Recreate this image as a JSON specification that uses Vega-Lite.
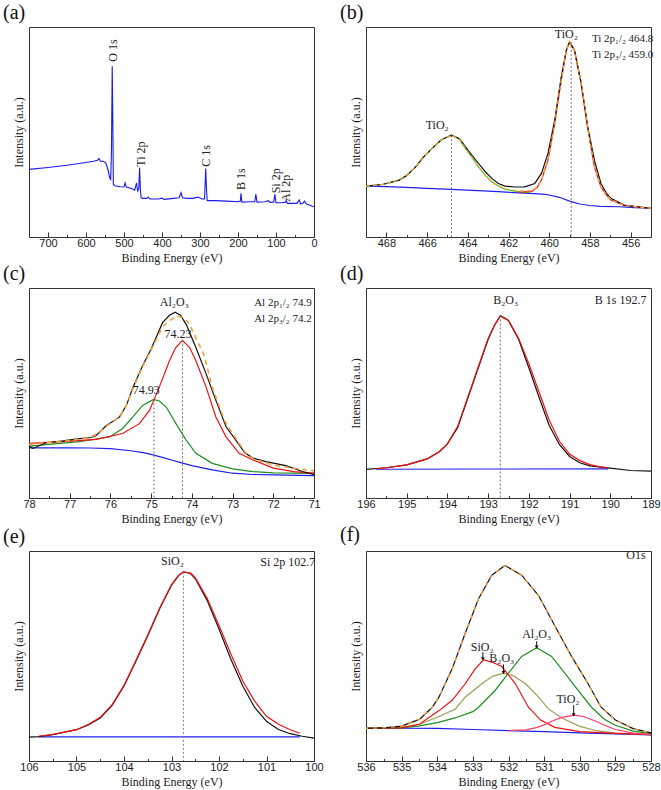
{
 "$schema": "https://vega.github.io/schema/vega-lite/v6.json",
 "padding": {"left": 2, "top": 2, "right": 2, "bottom": 1},
 "columns": 2,
 "spacing": {"row": -1, "column": 15},
 "resolve": {"scale": {"color": "independent"}},
 "config": {
  "font": "Liberation Serif",
  "view": {"stroke": "#333", "strokeWidth": 1},
  "title": {"font": "Liberation Serif", "fontSize": 20, "fontWeight": "normal", "anchor": "start", "frame": "bounds", "offset": 0, "dx": -9, "color": "#111"},
  "axisX": {"labelFont": "Liberation Sans", "labelFontSize": 11, "labelColor": "#222", "titleFont": "Liberation Serif", "titleFontSize": 12, "titleFontWeight": "normal", "titleColor": "#222", "domainColor": "#333", "tickColor": "#333", "grid": false, "labelOverlap": false, "labelFlush": false, "titlePadding": 2, "labelPadding": 5},
  "axisY": {"labels": false, "ticks": false, "domain": false, "grid": false, "titleFont": "Liberation Serif", "titleFontSize": 12, "titleFontWeight": "normal", "titleColor": "#222", "titlePadding": 4}
 },
 "datasets": {
  "a": [{"x":750,"y":32.2},{"x":700,"y":33.1},{"x":650,"y":34.2},{"x":600,"y":35.5},{"x":580,"y":36.1},{"x":570,"y":36.5},{"x":566,"y":37.4},{"x":562,"y":36.1},{"x":555,"y":36.1},{"x":548,"y":35.3},{"x":542,"y":31.9},{"x":537,"y":27.9},{"x":535,"y":27.4},{"x":533,"y":40.6},{"x":531,"y":81.3},{"x":529.5,"y":56.4},{"x":528,"y":25},{"x":524,"y":24.4},{"x":510,"y":23.9},{"x":500,"y":23.8},{"x":497,"y":25.8},{"x":494,"y":23.8},{"x":480,"y":23.1},{"x":472,"y":22.3},{"x":467,"y":25.8},{"x":464,"y":21.6},{"x":461,"y":23.1},{"x":459,"y":33},{"x":457,"y":23.1},{"x":455,"y":18.7},{"x":450,"y":18.4},{"x":440,"y":18.4},{"x":436,"y":19},{"x":432,"y":18.1},{"x":410,"y":18.1},{"x":400,"y":18.5},{"x":395,"y":17.9},{"x":370,"y":18.4},{"x":355,"y":18.7},{"x":350,"y":21.1},{"x":346,"y":18.7},{"x":335,"y":18.4},{"x":320,"y":18.4},{"x":305,"y":19},{"x":295,"y":18.1},{"x":288,"y":18.1},{"x":285,"y":32.6},{"x":283,"y":23.1},{"x":281,"y":17.3},{"x":260,"y":17.3},{"x":230,"y":17.1},{"x":200,"y":16.8},{"x":194,"y":17.1},{"x":192,"y":20.8},{"x":190,"y":16.6},{"x":170,"y":16.8},{"x":156,"y":16.8},{"x":153,"y":20.3},{"x":150,"y":16.6},{"x":130,"y":16.8},{"x":120,"y":17.3},{"x":116,"y":16.5},{"x":106,"y":16.6},{"x":103,"y":20.3},{"x":100,"y":16.3},{"x":85,"y":16.3},{"x":75,"y":16.6},{"x":73,"y":17.4},{"x":70,"y":16},{"x":45,"y":16},{"x":39,"y":17.6},{"x":35,"y":15.7},{"x":28,"y":16.3},{"x":25,"y":17.1},{"x":20,"y":15.7},{"x":12,"y":15.2},{"x":5,"y":14.6},{"x":0,"y":14.4}],
  "aL": [{"x":530,"y":83.5,"t":"O 1s"},{"x":456,"y":33.5,"t":"Ti 2p"},{"x":285,"y":33.5,"t":"C 1s"},{"x":191,"y":22.4,"t":"B 1s"},{"x":101,"y":20.8,"t":"Si 2p"},{"x":73,"y":16.8,"t":"Al 2p"}],
  "b": [
   {"s":"bg","x":469,"y":24.2},{"s":"bg","x":468,"y":24.0},{"s":"bg","x":467,"y":23.6},{"s":"bg","x":466,"y":23.2},{"s":"bg","x":464.8,"y":22.7},{"s":"bg","x":463.5,"y":22.1},{"s":"bg","x":462.5,"y":21.6},{"s":"bg","x":461.7,"y":21.1},{"s":"bg","x":461,"y":20.8},{"s":"bg","x":460.3,"y":20.4},{"s":"bg","x":460,"y":20.0},{"s":"bg","x":459.5,"y":18.9},{"s":"bg","x":459,"y":17.1},{"s":"bg","x":458.5,"y":15.7},{"s":"bg","x":458,"y":15.0},{"s":"bg","x":457.5,"y":14.6},{"s":"bg","x":456.6,"y":14.4},{"s":"bg","x":455.8,"y":14.0},{"s":"bg","x":455,"y":13.7},
   {"s":"g","x":469,"y":24.2},{"s":"g","x":468.19,"y":25.0},{"s":"g","x":467.37,"y":27.1},{"s":"g","x":467,"y":29.3},{"s":"g","x":466.56,"y":33.4},{"s":"g","x":466.2,"y":37.8},{"s":"g","x":465.75,"y":42.2},{"s":"g","x":465.3,"y":46.3},{"s":"g","x":464.8,"y":48.5},{"s":"g","x":464.4,"y":46.5},{"s":"g","x":464.12,"y":42.2},{"s":"g","x":463.8,"y":38},{"s":"g","x":463.47,"y":33.4},{"s":"g","x":463.15,"y":29.5},{"s":"g","x":462.82,"y":26.3},{"s":"g","x":462.5,"y":24.3},{"s":"g","x":462.17,"y":22.7},{"s":"g","x":461.52,"y":21.6},{"s":"g","x":461.0,"y":21.1},
   {"s":"r","x":461.5,"y":21.4},{"s":"r","x":460.87,"y":21.6},{"s":"r","x":460.6,"y":23.5},{"s":"r","x":460.38,"y":27.1},{"s":"r","x":460.06,"y":36.6},{"s":"r","x":459.73,"y":54.0},{"s":"r","x":459.41,"y":74.6},{"s":"r","x":459.16,"y":88.9},{"s":"r","x":459.0,"y":92.9},{"s":"r","x":458.76,"y":88.9},{"s":"r","x":458.43,"y":73.1},{"s":"r","x":458.11,"y":52.0},{"s":"r","x":457.78,"y":33.4},{"s":"r","x":457.46,"y":23.9},{"s":"r","x":457.2,"y":20},{"s":"r","x":456.97,"y":17.6},{"s":"r","x":456.32,"y":15.0},{"s":"r","x":455.67,"y":14.3},{"s":"r","x":455,"y":13.7},
   {"s":"data","x":469,"y":24.2},{"s":"data","x":468.19,"y":25.0},{"s":"data","x":467.37,"y":27.1},{"s":"data","x":467,"y":29.3},{"s":"data","x":466.56,"y":33.4},{"s":"data","x":466.2,"y":37.8},{"s":"data","x":465.75,"y":42.2},{"s":"data","x":465.3,"y":46.3},{"s":"data","x":464.8,"y":48.5},{"s":"data","x":464.4,"y":46.8},{"s":"data","x":464.12,"y":43.0},{"s":"data","x":463.8,"y":39},{"s":"data","x":463.47,"y":35.0},{"s":"data","x":463.15,"y":31.2},{"s":"data","x":462.82,"y":27.9},{"s":"data","x":462.5,"y":25.5},{"s":"data","x":462.17,"y":24.2},{"s":"data","x":461.7,"y":23.8},{"s":"data","x":461.2,"y":23.9},{"s":"data","x":460.71,"y":25.5},{"s":"data","x":460.38,"y":30.3},{"s":"data","x":460.06,"y":39.8},{"s":"data","x":459.73,"y":55.6},{"s":"data","x":459.41,"y":76.2},{"s":"data","x":459.16,"y":88.9},{"s":"data","x":459.0,"y":92.9},{"s":"data","x":458.76,"y":88.9},{"s":"data","x":458.43,"y":73.1},{"s":"data","x":458.11,"y":52.5},{"s":"data","x":457.78,"y":36.6},{"s":"data","x":457.46,"y":25.5},{"s":"data","x":457.2,"y":21},{"s":"data","x":456.97,"y":18.4},{"s":"data","x":456.32,"y":15.2},{"s":"data","x":455.67,"y":14.4},{"s":"data","x":455,"y":13.6},
   {"s":"env","x":469,"y":24.2},{"s":"env","x":468.19,"y":25.0},{"s":"env","x":467.37,"y":27.1},{"s":"env","x":467,"y":29.3},{"s":"env","x":466.56,"y":33.4},{"s":"env","x":466.2,"y":37.8},{"s":"env","x":465.75,"y":42.2},{"s":"env","x":465.3,"y":46.3},{"s":"env","x":464.8,"y":48.5},{"s":"env","x":464.4,"y":46.5},{"s":"env","x":464.12,"y":42.2},{"s":"env","x":463.8,"y":38},{"s":"env","x":463.47,"y":33.4},{"s":"env","x":463.15,"y":29.5},{"s":"env","x":462.82,"y":26.3},{"s":"env","x":462.5,"y":24.4},{"s":"env","x":462.17,"y":22.9},{"s":"env","x":461.52,"y":21.9},{"s":"env","x":460.87,"y":22.0},{"s":"env","x":460.6,"y":23.7},{"s":"env","x":460.38,"y":27.2},{"s":"env","x":460.06,"y":36.6},{"s":"env","x":459.73,"y":54.0},{"s":"env","x":459.41,"y":74.6},{"s":"env","x":459.16,"y":88.9},{"s":"env","x":459.0,"y":92.9},{"s":"env","x":458.76,"y":88.9},{"s":"env","x":458.43,"y":73.1},{"s":"env","x":458.11,"y":52.0},{"s":"env","x":457.78,"y":33.6},{"s":"env","x":457.46,"y":24.2},{"s":"env","x":457.2,"y":20.2},{"s":"env","x":456.97,"y":17.8},{"s":"env","x":456.32,"y":15.1},{"s":"env","x":455.67,"y":14.3},{"s":"env","x":455,"y":13.7}
  ],
  "bR": [{"x":464.8,"y":48.5},{"x":458.92,"y":92.9}],
  "bT": [{"x":465.5,"y":53.2,"t":"TiO₂"},{"x":459.16,"y":96.8,"t":"TiO₂"}],
  "bTL": [{"x":457.9,"y":94.1,"t":"Ti 2p₁/₂ 464.8"},{"x":457.9,"y":86.5,"t":"Ti 2p₃/₂ 459.0"}],
  "c": [
   {"s":"bg","x":78,"y":23.9},{"s":"bg","x":77,"y":23.9},{"s":"bg","x":76.5,"y":23.8},{"s":"bg","x":76,"y":23.5},{"s":"bg","x":75.5,"y":22.5},{"s":"bg","x":75.2,"y":21.6},{"s":"bg","x":75,"y":20.8},{"s":"bg","x":74.75,"y":19.5},{"s":"bg","x":74.5,"y":18.1},{"s":"bg","x":74.25,"y":16.7},{"s":"bg","x":74,"y":15.4},{"s":"bg","x":73.5,"y":13.4},{"s":"bg","x":73,"y":11.8},{"s":"bg","x":72.5,"y":11.2},{"s":"bg","x":72,"y":11.0},{"s":"bg","x":71,"y":10.7},
   {"s":"g","x":78,"y":24.7},{"s":"g","x":76.76,"y":26.8},{"s":"g","x":76.02,"y":29.1},{"s":"g","x":75.7,"y":33.1},{"s":"g","x":75.45,"y":38.6},{"s":"g","x":75.21,"y":44.1},{"s":"g","x":74.94,"y":46.9},{"s":"g","x":74.8,"y":46.2},{"s":"g","x":74.63,"y":43.3},{"s":"g","x":74.39,"y":35.4},{"s":"g","x":74.14,"y":27.6},{"s":"g","x":73.9,"y":21.3},{"s":"g","x":73.5,"y":16.5},{"s":"g","x":73,"y":13.9},{"s":"g","x":72.5,"y":12.6},{"s":"g","x":72,"y":12.0},{"s":"g","x":71,"y":11.7},
   {"s":"r","x":78,"y":26.0},{"s":"r","x":77.17,"y":26.8},{"s":"r","x":76.35,"y":27.9},{"s":"r","x":75.7,"y":30.7},{"s":"r","x":75.29,"y":35.4},{"s":"r","x":75.04,"y":41.7},{"s":"r","x":74.8,"y":52.8},{"s":"r","x":74.55,"y":65.4},{"s":"r","x":74.4,"y":71.5},{"s":"r","x":74.23,"y":75.1},{"s":"r","x":74.05,"y":71.5},{"s":"r","x":73.9,"y":65.4},{"s":"r","x":73.65,"y":52.8},{"s":"r","x":73.41,"y":38.6},{"s":"r","x":73.16,"y":29.1},{"s":"r","x":72.84,"y":21.3},{"s":"r","x":72.5,"y":18.1},{"s":"r","x":72,"y":14.2},{"s":"r","x":71.5,"y":12.6},{"s":"r","x":71,"y":11.8},
   {"s":"data","x":78,"y":24.7},{"s":"data","x":77.9,"y":23.6},{"s":"data","x":77.58,"y":26.3},{"s":"data","x":77.17,"y":27.2},{"s":"data","x":76.76,"y":28.3},{"s":"data","x":76.47,"y":28.8},{"s":"data","x":76.35,"y":29.8},{"s":"data","x":76.1,"y":34.5},{"s":"data","x":75.78,"y":38.5},{"s":"data","x":75.61,"y":44},{"s":"data","x":75.45,"y":52.5},{"s":"data","x":75.21,"y":63},{"s":"data","x":75.0,"y":71},{"s":"data","x":74.72,"y":83.5},{"s":"data","x":74.55,"y":87},{"s":"data","x":74.41,"y":88.5},{"s":"data","x":74.28,"y":87},{"s":"data","x":74.14,"y":82.7},{"s":"data","x":73.9,"y":71.7},{"s":"data","x":73.65,"y":59.1},{"s":"data","x":73.41,"y":46.5},{"s":"data","x":73.16,"y":33.9},{"s":"data","x":72.92,"y":27.6},{"s":"data","x":72.7,"y":21.5},{"s":"data","x":72.5,"y":19.0},{"s":"data","x":72.18,"y":17.3},{"s":"data","x":71.69,"y":15.4},{"s":"data","x":71.28,"y":12.6},{"s":"data","x":71.04,"y":11.3},{"s":"data","x":71,"y":11.1},
   {"s":"env","x":78,"y":25.5},{"s":"env","x":77.5,"y":26.5},{"s":"env","x":77,"y":27.3},{"s":"env","x":76.5,"y":28.9},{"s":"env","x":76.3,"y":30.8},{"s":"env","x":76.1,"y":34.2},{"s":"env","x":75.78,"y":38.5},{"s":"env","x":75.61,"y":44},{"s":"env","x":75.45,"y":52},{"s":"env","x":75.21,"y":62.5},{"s":"env","x":75.0,"y":70.5},{"s":"env","x":74.72,"y":81.5},{"s":"env","x":74.5,"y":85.2},{"s":"env","x":74.31,"y":86.6},{"s":"env","x":74.1,"y":84},{"s":"env","x":74,"y":80.3},{"s":"env","x":73.7,"y":68},{"s":"env","x":73.5,"y":52.8},{"s":"env","x":73.2,"y":37},{"s":"env","x":73,"y":30.7},{"s":"env","x":72.7,"y":22},{"s":"env","x":72.5,"y":18.6},{"s":"env","x":72,"y":15.7},{"s":"env","x":71.5,"y":14.2},{"s":"env","x":71,"y":12.9}
  ],
  "cR": [{"x":74.93,"y":46.9},{"x":74.23,"y":75.1}],
  "cT": [{"x":74.43,"y":93.4,"t":"Al₂O₃"},{"x":74.34,"y":78,"t":"74.23"},{"x":75.12,"y":51.2,"t":"74.93"}],
  "cTL": [{"x":72.47,"y":92.9,"t":"Al 2p₁/₂ 74.9"},{"x":72.47,"y":85.4,"t":"Al 2p₃/₂ 74.2"}],
  "d": [
   {"s":"bg","x":195.75,"y":13.7},{"s":"bg","x":193,"y":13.8},{"s":"bg","x":190.05,"y":13.9},
   {"s":"r","x":195.75,"y":13.9},{"s":"r","x":195.5,"y":14.4},{"s":"r","x":195,"y":15.8},{"s":"r","x":194.5,"y":18.6},{"s":"r","x":194.2,"y":22},{"s":"r","x":194,"y":25.8},{"s":"r","x":193.75,"y":34},{"s":"r","x":193.5,"y":48},{"s":"r","x":193.25,"y":62},{"s":"r","x":193,"y":76},{"s":"r","x":192.85,"y":82},{"s":"r","x":192.7,"y":86.6},{"s":"r","x":192.5,"y":84.5},{"s":"r","x":192.25,"y":76},{"s":"r","x":192,"y":64},{"s":"r","x":191.75,"y":50.5},{"s":"r","x":191.5,"y":37},{"s":"r","x":191.25,"y":27},{"s":"r","x":191,"y":20.9},{"s":"r","x":190.75,"y":17.8},{"s":"r","x":190.5,"y":15.9},{"s":"r","x":190.25,"y":14.8},{"s":"r","x":190.05,"y":14.4},
   {"s":"data","x":196,"y":13.6},{"s":"data","x":195.5,"y":14.4},{"s":"data","x":195,"y":15.8},{"s":"data","x":194.5,"y":18.6},{"s":"data","x":194.2,"y":22},{"s":"data","x":194,"y":25.8},{"s":"data","x":193.75,"y":33.5},{"s":"data","x":193.5,"y":47.5},{"s":"data","x":193.25,"y":61.5},{"s":"data","x":193,"y":75.5},{"s":"data","x":192.85,"y":82},{"s":"data","x":192.7,"y":86.9},{"s":"data","x":192.5,"y":84.5},{"s":"data","x":192.25,"y":75.5},{"s":"data","x":192,"y":62},{"s":"data","x":191.75,"y":48},{"s":"data","x":191.5,"y":34.5},{"s":"data","x":191.25,"y":25.5},{"s":"data","x":191,"y":19.8},{"s":"data","x":190.75,"y":16.8},{"s":"data","x":190.5,"y":15.3},{"s":"data","x":190,"y":14.2},{"s":"data","x":189.5,"y":13.1},{"s":"data","x":189,"y":12.8}
  ],
  "dR": [{"x":192.7,"y":86.9}],
  "dT": [{"x":192.57,"y":94.2,"t":"B₂O₃"}],
  "dTL": [{"x":190.38,"y":94.2,"t":"B 1s 192.7"}],
  "e": [
   {"s":"bg","x":105.8,"y":11.5},{"s":"bg","x":100.3,"y":11.5},
   {"s":"r","x":105.8,"y":11.8},{"s":"r","x":105.5,"y":12.7},{"s":"r","x":105,"y":14.9},{"s":"r","x":104.75,"y":17.4},{"s":"r","x":104.5,"y":20.8},{"s":"r","x":104.25,"y":26.8},{"s":"r","x":104,"y":36.0},{"s":"r","x":103.75,"y":47.8},{"s":"r","x":103.5,"y":60.0},{"s":"r","x":103.25,"y":72.7},{"s":"r","x":103,"y":84},{"s":"r","x":102.85,"y":88.5},{"s":"r","x":102.75,"y":90.1},{"s":"r","x":102.6,"y":89.5},{"s":"r","x":102.5,"y":87.3},{"s":"r","x":102.25,"y":77.5},{"s":"r","x":102,"y":64.5},{"s":"r","x":101.75,"y":51},{"s":"r","x":101.5,"y":38.1},{"s":"r","x":101.25,"y":28.5},{"s":"r","x":101,"y":21.3},{"s":"r","x":100.75,"y":17.5},{"s":"r","x":100.5,"y":14.9},{"s":"r","x":100.3,"y":13.2},
   {"s":"data","x":106,"y":11.4},{"s":"data","x":105.8,"y":11.6},{"s":"data","x":105.5,"y":12.5},{"s":"data","x":105,"y":14.9},{"s":"data","x":104.75,"y":17.2},{"s":"data","x":104.5,"y":20.5},{"s":"data","x":104.25,"y":26.5},{"s":"data","x":104,"y":35.7},{"s":"data","x":103.75,"y":47.5},{"s":"data","x":103.5,"y":59.7},{"s":"data","x":103.25,"y":72.5},{"s":"data","x":103,"y":83.7},{"s":"data","x":102.85,"y":88.3},{"s":"data","x":102.75,"y":90.1},{"s":"data","x":102.6,"y":89.3},{"s":"data","x":102.5,"y":86.9},{"s":"data","x":102.25,"y":76.5},{"s":"data","x":102,"y":62.9},{"s":"data","x":101.75,"y":48.5},{"s":"data","x":101.5,"y":35.7},{"s":"data","x":101.25,"y":25.5},{"s":"data","x":101,"y":18.9},{"s":"data","x":100.75,"y":15.0},{"s":"data","x":100.5,"y":13.0},{"s":"data","x":100.25,"y":11.8},{"s":"data","x":100,"y":10.9}
  ],
  "eR": [{"x":102.75,"y":90.1}],
  "eT": [{"x":102.98,"y":95.2,"t":"SiO₂"}],
  "eTL": [{"x":101.13,"y":94.9,"t":"Si 2p 102.7"}],
  "f": [
   {"s":"bg","x":536,"y":15.6},{"s":"bg","x":535,"y":15.6},{"s":"bg","x":534,"y":15.5},{"s":"bg","x":533,"y":15.0},{"s":"bg","x":532,"y":14.5},{"s":"bg","x":531,"y":14.0},{"s":"bg","x":530,"y":13.4},{"s":"bg","x":529,"y":12.9},{"s":"bg","x":528,"y":12.4},
   {"s":"b2o3","x":536,"y":15.6},{"s":"b2o3","x":535,"y":16.0},{"s":"b2o3","x":534.5,"y":17.5},{"s":"b2o3","x":534,"y":20.8},{"s":"b2o3","x":533.49,"y":24.8},{"s":"b2o3","x":533.21,"y":30.5},{"s":"b2o3","x":532.74,"y":36.9},{"s":"b2o3","x":532.45,"y":40.3},{"s":"b2o3","x":532.14,"y":41.8},{"s":"b2o3","x":531.85,"y":40.5},{"s":"b2o3","x":531.53,"y":36.9},{"s":"b2o3","x":531.16,"y":30.5},{"s":"b2o3","x":530.88,"y":24.8},{"s":"b2o3","x":530.5,"y":20.5},{"s":"b2o3","x":530,"y":16.5},{"s":"b2o3","x":529.5,"y":14.3},{"s":"b2o3","x":529,"y":13.3},{"s":"b2o3","x":528,"y":12.6},
   {"s":"al2o3","x":536,"y":15.6},{"s":"al2o3","x":535,"y":15.8},{"s":"al2o3","x":534.5,"y":16.7},{"s":"al2o3","x":534,"y":18.3},{"s":"al2o3","x":533.5,"y":20.5},{"s":"al2o3","x":533,"y":23.5},{"s":"al2o3","x":532.84,"y":25.6},{"s":"al2o3","x":532.37,"y":33.7},{"s":"al2o3","x":532,"y":41.8},{"s":"al2o3","x":531.63,"y":49.8},{"s":"al2o3","x":531.21,"y":53.9},{"s":"al2o3","x":530.79,"y":49.8},{"s":"al2o3","x":530.42,"y":41.8},{"s":"al2o3","x":530.05,"y":33.7},{"s":"al2o3","x":529.67,"y":25.6},{"s":"al2o3","x":529.3,"y":19.8},{"s":"al2o3","x":529,"y":17.0},{"s":"al2o3","x":528.5,"y":14.2},{"s":"al2o3","x":528,"y":13.0},
   {"s":"sio2","x":536,"y":15.6},{"s":"sio2","x":535,"y":15.8},{"s":"sio2","x":534.5,"y":17.5},{"s":"sio2","x":533.95,"y":24},{"s":"sio2","x":533.58,"y":28.9},{"s":"sio2","x":533.21,"y":36.9},{"s":"sio2","x":532.95,"y":43.5},{"s":"sio2","x":532.7,"y":48.2},{"s":"sio2","x":532.45,"y":47},{"s":"sio2","x":532.19,"y":45},{"s":"sio2","x":531.81,"y":36.9},{"s":"sio2","x":531.44,"y":25.6},{"s":"sio2","x":531.1,"y":19.5},{"s":"sio2","x":530.7,"y":16},{"s":"sio2","x":530,"y":14},{"s":"sio2","x":529,"y":13.2},{"s":"sio2","x":528,"y":12.6},
   {"s":"tio2","x":532,"y":14.5},{"s":"tio2","x":531.5,"y":14.8},{"s":"tio2","x":531.2,"y":16},{"s":"tio2","x":531,"y":17.2},{"s":"tio2","x":530.75,"y":19.2},{"s":"tio2","x":530.5,"y":20.8},{"s":"tio2","x":530.17,"y":21.8},{"s":"tio2","x":529.9,"y":21.2},{"s":"tio2","x":529.6,"y":19.3},{"s":"tio2","x":529.3,"y":17},{"s":"tio2","x":529,"y":15},{"s":"tio2","x":528.5,"y":13.3},{"s":"tio2","x":528,"y":12.6},
   {"s":"data","x":536,"y":15.6},{"s":"data","x":535.5,"y":15.8},{"s":"data","x":535,"y":16.6},{"s":"data","x":534.5,"y":19.8},{"s":"data","x":534.14,"y":25.6},{"s":"data","x":533.95,"y":30.5},{"s":"data","x":533.58,"y":44},{"s":"data","x":533.21,"y":61.1},{"s":"data","x":532.84,"y":77.3},{"s":"data","x":532.47,"y":88.5},{"s":"data","x":532.1,"y":93.1},{"s":"data","x":531.63,"y":88.5},{"s":"data","x":531.16,"y":78.9},{"s":"data","x":530.7,"y":64.4},{"s":"data","x":530.23,"y":49.8},{"s":"data","x":529.77,"y":36.9},{"s":"data","x":529.4,"y":25.6},{"s":"data","x":529,"y":19.5},{"s":"data","x":528.5,"y":15.4},{"s":"data","x":528,"y":13.4},
   {"s":"env","x":536,"y":15.6},{"s":"env","x":535.5,"y":15.8},{"s":"env","x":535,"y":16.6},{"s":"env","x":534.5,"y":19.8},{"s":"env","x":534.14,"y":25.6},{"s":"env","x":533.95,"y":30.5},{"s":"env","x":533.58,"y":44},{"s":"env","x":533.21,"y":61.1},{"s":"env","x":532.84,"y":77.3},{"s":"env","x":532.47,"y":88.5},{"s":"env","x":532.1,"y":93.1},{"s":"env","x":531.63,"y":88.5},{"s":"env","x":531.16,"y":78.9},{"s":"env","x":530.7,"y":64.4},{"s":"env","x":530.23,"y":49.8},{"s":"env","x":529.77,"y":36.9},{"s":"env","x":529.4,"y":25.6},{"s":"env","x":529,"y":19.5},{"s":"env","x":528.5,"y":15.4},{"s":"env","x":528,"y":13.4}
  ],
  "fA": [{"x":532.72,"y":51.8,"y2":48.6},{"x":532.14,"y":46.0,"y2":42.1},{"x":531.21,"y":57.0,"y2":54.2},{"x":530.17,"y":26.6,"y2":22.0}],
  "fT": [{"x":532.74,"y":54.5,"t":"SiO₂"},{"x":532.19,"y":49.2,"t":"B₂O₃"},{"x":531.21,"y":60.3,"t":"Al₂O₃"},{"x":530.33,"y":29.7,"t":"TiO₂"},{"x":528.42,"y":97.9,"t":"O1s"}]
 },
 "concat": [
  {
   "title": {"text": "(a)"},
   "width": 285, "height": 210,
   "encoding": {
    "x": {"field": "x", "type": "quantitative", "scale": {"domain": [750, 0], "nice": false, "zero": false}, "axis": {"title": "Binding Energy (eV)", "values": [0,50,100,150,200,250,300,350,400,450,500,550,600,650,700], "labelExpr": "datum.value % 100 === 0 ? format(datum.value, 'd') : ''", "tickSize": {"condition": {"test": "datum.value % 100 !== 0", "value": -2.5}, "value": -5}}},
    "y": {"field": "y", "type": "quantitative", "scale": {"domain": [0, 100], "nice": false, "zero": false}, "axis": {"title": "Intensity (a.u.)"}}
   },
   "layer": [
    {"data": {"name": "a"}, "mark": {"type": "line", "color": "#1a1aee", "strokeWidth": 1.1}},
    {"data": {"name": "aL"}, "mark": {"type": "text", "angle": 270, "align": "left", "baseline": "middle", "font": "Liberation Serif", "fontSize": 12, "color": "#222"}, "encoding": {"text": {"field": "t"}}}
   ]
  },
  {
   "title": {"text": "(b)"},
   "width": 285, "height": 210,
   "encoding": {
    "x": {"field": "x", "type": "quantitative", "scale": {"domain": [469, 455], "nice": false, "zero": false}, "axis": {"title": "Binding Energy (eV)", "values": [456,457,458,459,460,461,462,463,464,465,466,467,468], "labelExpr": "datum.value % 2 === 0 ? format(datum.value, 'd') : ''", "tickSize": {"condition": {"test": "datum.value % 2 !== 0", "value": -2.5}, "value": -5}}},
    "y": {"field": "y", "type": "quantitative", "scale": {"domain": [0, 100], "nice": false, "zero": false}, "axis": {"title": "Intensity (a.u.)"}}
   },
   "layer": [
    {"data": {"name": "b"}, "transform": [{"filter": "datum.s === 'bg'"}], "mark": {"type": "line", "color": "#2020ee", "strokeWidth": 1.2}},
    {"data": {"name": "b"}, "transform": [{"filter": {"field": "s", "oneOf": ["g", "r"]}}], "mark": {"type": "line", "strokeWidth": 1.2}, "encoding": {"color": {"field": "s", "type": "nominal", "scale": {"domain": ["g", "r"], "range": ["#33cc33", "#ee1111"]}, "legend": null}}},
    {"data": {"name": "b"}, "transform": [{"filter": "datum.s === 'data'"}], "mark": {"type": "line", "color": "#111111", "strokeWidth": 1.2}},
    {"data": {"name": "b"}, "transform": [{"filter": "datum.s === 'env'"}], "mark": {"type": "line", "color": "#f5a040", "strokeWidth": 1.4, "strokeDash": [4, 3]}},
    {"data": {"name": "bR"}, "mark": {"type": "rule", "color": "#777777", "strokeDash": [2, 2], "strokeWidth": 1}, "encoding": {"y2": {"datum": 0}}},
    {"data": {"name": "bT"}, "mark": {"type": "text", "font": "Liberation Serif", "fontSize": 12, "align": "center", "baseline": "middle", "color": "#222"}, "encoding": {"text": {"field": "t"}}},
    {"data": {"name": "bTL"}, "mark": {"type": "text", "font": "Liberation Serif", "fontSize": 11, "align": "left", "baseline": "middle", "color": "#222"}, "encoding": {"text": {"field": "t"}}}
   ]
  },
  {
   "title": {"text": "(c)"},
   "width": 285, "height": 210,
   "encoding": {
    "x": {"field": "x", "type": "quantitative", "scale": {"domain": [78, 71], "nice": false, "zero": false}, "axis": {"title": "Binding Energy (eV)", "values": [71,71.5,72,72.5,73,73.5,74,74.5,75,75.5,76,76.5,77,77.5,78], "labelExpr": "datum.value % 1 === 0 ? format(datum.value, 'd') : ''", "tickSize": {"condition": {"test": "datum.value % 1 !== 0", "value": -2.5}, "value": -5}}},
    "y": {"field": "y", "type": "quantitative", "scale": {"domain": [0, 100], "nice": false, "zero": false}, "axis": {"title": "Intensity (a.u.)"}}
   },
   "layer": [
    {"data": {"name": "c"}, "transform": [{"filter": "datum.s === 'bg'"}], "mark": {"type": "line", "color": "#2020ee", "strokeWidth": 1.2}},
    {"data": {"name": "c"}, "transform": [{"filter": {"field": "s", "oneOf": ["g", "r"]}}], "mark": {"type": "line", "strokeWidth": 1.2}, "encoding": {"color": {"field": "s", "type": "nominal", "scale": {"domain": ["g", "r"], "range": ["#1f8f1f", "#ee1111"]}, "legend": null}}},
    {"data": {"name": "c"}, "transform": [{"filter": "datum.s === 'data'"}], "mark": {"type": "line", "color": "#111111", "strokeWidth": 1.2}},
    {"data": {"name": "c"}, "transform": [{"filter": "datum.s === 'env'"}], "mark": {"type": "line", "color": "#f5a040", "strokeWidth": 1.6, "strokeDash": [5, 4]}},
    {"data": {"name": "cR"}, "mark": {"type": "rule", "color": "#777777", "strokeDash": [2, 2], "strokeWidth": 1}, "encoding": {"y2": {"datum": 0}}},
    {"data": {"name": "cT"}, "mark": {"type": "text", "font": "Liberation Serif", "fontSize": 12, "align": "center", "baseline": "middle", "color": "#222"}, "encoding": {"text": {"field": "t"}}},
    {"data": {"name": "cTL"}, "mark": {"type": "text", "font": "Liberation Serif", "fontSize": 11, "align": "left", "baseline": "middle", "color": "#222"}, "encoding": {"text": {"field": "t"}}}
   ]
  },
  {
   "title": {"text": "(d)"},
   "width": 285, "height": 210,
   "encoding": {
    "x": {"field": "x", "type": "quantitative", "scale": {"domain": [196, 189], "nice": false, "zero": false}, "axis": {"title": "Binding Energy (eV)", "values": [189,189.5,190,190.5,191,191.5,192,192.5,193,193.5,194,194.5,195,195.5,196], "labelExpr": "datum.value % 1 === 0 ? format(datum.value, 'd') : ''", "tickSize": {"condition": {"test": "datum.value % 1 !== 0", "value": -2.5}, "value": -5}}},
    "y": {"field": "y", "type": "quantitative", "scale": {"domain": [0, 100], "nice": false, "zero": false}, "axis": {"title": "Intensity (a.u.)"}}
   },
   "layer": [
    {"data": {"name": "d"}, "transform": [{"filter": "datum.s === 'bg'"}], "mark": {"type": "line", "color": "#2020ee", "strokeWidth": 1.2}},
    {"data": {"name": "d"}, "transform": [{"filter": "datum.s === 'data'"}], "mark": {"type": "line", "color": "#111111", "strokeWidth": 1.2}},
    {"data": {"name": "d"}, "transform": [{"filter": "datum.s === 'r'"}], "mark": {"type": "line", "color": "#ee1111", "strokeWidth": 1.2}},
    {"data": {"name": "dR"}, "mark": {"type": "rule", "color": "#777777", "strokeDash": [2, 2], "strokeWidth": 1}, "encoding": {"y2": {"datum": 0}}},
    {"data": {"name": "dT"}, "mark": {"type": "text", "font": "Liberation Serif", "fontSize": 12, "align": "center", "baseline": "middle", "color": "#222"}, "encoding": {"text": {"field": "t"}}},
    {"data": {"name": "dTL"}, "mark": {"type": "text", "font": "Liberation Serif", "fontSize": 12, "align": "left", "baseline": "middle", "color": "#222"}, "encoding": {"text": {"field": "t"}}}
   ]
  },
  {
   "title": {"text": "(e)"},
   "width": 285, "height": 210,
   "encoding": {
    "x": {"field": "x", "type": "quantitative", "scale": {"domain": [106, 100], "nice": false, "zero": false}, "axis": {"title": "Binding Energy (eV)", "values": [100,100.5,101,101.5,102,102.5,103,103.5,104,104.5,105,105.5,106], "labelExpr": "datum.value % 1 === 0 ? format(datum.value, 'd') : ''", "tickSize": {"condition": {"test": "datum.value % 1 !== 0", "value": -2.5}, "value": -5}}},
    "y": {"field": "y", "type": "quantitative", "scale": {"domain": [0, 100], "nice": false, "zero": false}, "axis": {"title": "Intensity (a.u.)"}}
   },
   "layer": [
    {"data": {"name": "e"}, "transform": [{"filter": "datum.s === 'bg'"}], "mark": {"type": "line", "color": "#2020ee", "strokeWidth": 1.2}},
    {"data": {"name": "e"}, "transform": [{"filter": "datum.s === 'data'"}], "mark": {"type": "line", "color": "#111111", "strokeWidth": 1.2}},
    {"data": {"name": "e"}, "transform": [{"filter": "datum.s === 'r'"}], "mark": {"type": "line", "color": "#ee1111", "strokeWidth": 1.2}},
    {"data": {"name": "eR"}, "mark": {"type": "rule", "color": "#777777", "strokeDash": [2, 2], "strokeWidth": 1}, "encoding": {"y2": {"datum": 0}}},
    {"data": {"name": "eT"}, "mark": {"type": "text", "font": "Liberation Serif", "fontSize": 12, "align": "center", "baseline": "middle", "color": "#222"}, "encoding": {"text": {"field": "t"}}},
    {"data": {"name": "eTL"}, "mark": {"type": "text", "font": "Liberation Serif", "fontSize": 12, "align": "left", "baseline": "middle", "color": "#222"}, "encoding": {"text": {"field": "t"}}}
   ]
  },
  {
   "title": {"text": "(f)"},
   "width": 285, "height": 210,
   "encoding": {
    "x": {"field": "x", "type": "quantitative", "scale": {"domain": [536, 528], "nice": false, "zero": false}, "axis": {"title": "Binding Energy (eV)", "values": [528,528.5,529,529.5,530,530.5,531,531.5,532,532.5,533,533.5,534,534.5,535,535.5,536], "labelExpr": "datum.value % 1 === 0 ? format(datum.value, 'd') : ''", "tickSize": {"condition": {"test": "datum.value % 1 !== 0", "value": -2.5}, "value": -5}}},
    "y": {"field": "y", "type": "quantitative", "scale": {"domain": [0, 100], "nice": false, "zero": false}, "axis": {"title": "Intensity (a.u.)"}}
   },
   "layer": [
    {"data": {"name": "f"}, "transform": [{"filter": "datum.s === 'bg'"}], "mark": {"type": "line", "color": "#2020ee", "strokeWidth": 1.2}},
    {"data": {"name": "f"}, "transform": [{"filter": {"field": "s", "oneOf": ["b2o3", "al2o3", "sio2", "tio2"]}}], "mark": {"type": "line", "strokeWidth": 1.2}, "encoding": {"color": {"field": "s", "type": "nominal", "scale": {"domain": ["b2o3", "al2o3", "sio2", "tio2"], "range": ["#9c9c52", "#1f8f1f", "#ee1111", "#ff3b6b"]}, "legend": null}}},
    {"data": {"name": "f"}, "transform": [{"filter": "datum.s === 'data'"}], "mark": {"type": "line", "color": "#111111", "strokeWidth": 1.2}},
    {"data": {"name": "f"}, "transform": [{"filter": "datum.s === 'env'"}], "mark": {"type": "line", "color": "#f5a040", "strokeWidth": 1.4, "strokeDash": [4, 5], "strokeDashOffset": 2}},
    {"data": {"name": "fA"}, "mark": {"type": "rule", "color": "#111111", "strokeWidth": 1}, "encoding": {"y2": {"field": "y2"}}},
    {"data": {"name": "fA"}, "mark": {"type": "point", "shape": "triangle-down", "filled": true, "color": "#111111", "size": 14, "opacity": 1}, "encoding": {"y": {"field": "y2", "type": "quantitative"}}},
    {"data": {"name": "fT"}, "mark": {"type": "text", "font": "Liberation Serif", "fontSize": 12, "align": "center", "baseline": "middle", "color": "#222"}, "encoding": {"text": {"field": "t"}}}
   ]
  }
 ]
}
